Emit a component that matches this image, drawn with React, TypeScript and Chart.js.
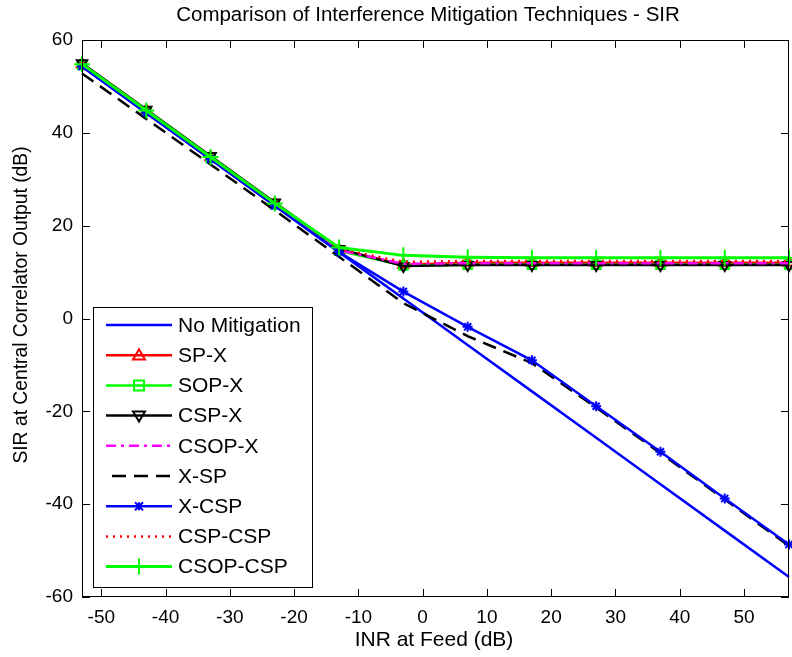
import React, { useEffect, useRef } from "react";
import { Chart, registerables } from "chart.js";

Chart.register(...registerables);

// ---------- data ----------
const INR = [-53, -43, -33, -23, -13, -3, 7, 17, 27, 37, 47, 57];
const NO_MITIGATION = [54.3, 44.3, 34.3, 24.3, 14.3, 4.3, -5.7, -15.7, -25.7, -35.7, -45.7, -55.7];
const SP_X = [54.8, 44.8, 34.8, 24.8, 14.8, 11.6, 12.0, 12.0, 12.0, 12.0, 12.0, 12.0];
const SOP_X = [54.6, 44.6, 34.6, 24.6, 14.6, 11.4, 11.6, 11.6, 11.6, 11.6, 11.6, 11.6];
const CSP_X = [55.0, 45.0, 35.0, 25.0, 15.0, 11.3, 11.5, 11.5, 11.5, 11.5, 11.5, 11.5];
const CSOP_X = [54.7, 44.7, 34.7, 24.7, 14.7, 11.8, 11.9, 11.9, 11.9, 11.9, 11.9, 11.9];
const X_SP = [52.8, 43.0, 33.2, 23.3, 13.3, 3.3, -3.8, -9.6, -19.2, -29.0, -39.0, -49.0];
const X_CSP = [54.3, 44.3, 34.3, 24.3, 14.3, 5.8, -1.8, -9.0, -18.9, -28.7, -38.8, -48.7];
const CSP_CSP = [54.9, 44.9, 34.9, 24.9, 15.0, 12.2, 12.4, 12.4, 12.4, 12.4, 12.4, 12.4];
const CSOP_CSP = [54.8, 44.8, 34.8, 24.8, 15.3, 13.6, 13.2, 13.1, 13.1, 13.1, 13.1, 13.1];

const SERIES_NAMES = ["No Mitigation", "SP-X", "SOP-X", "CSP-X", "CSOP-X", "X-SP", "X-CSP", "CSP-CSP", "CSOP-CSP"];
const SERIES_VALUES = [NO_MITIGATION, SP_X, SOP_X, CSP_X, CSOP_X, X_SP, X_CSP, CSP_CSP, CSOP_CSP];

const X_TICKS = [-50, -40, -30, -20, -10, 0, 10, 20, 30, 40, 50];
const Y_TICKS = [-60, -40, -20, 0, 20, 40, 60];

const TITLE = "Comparison of Interference Mitigation Techniques - SIR";
const X_LABEL = "INR at Feed (dB)";
const Y_LABEL = "SIR at Central Correlator Output (dB)";

// ---------- styles ----------
type Marker = "none" | "tri" | "square" | "dtri" | "star" | "plus";
const STYLES: { color: string; dash: number[]; marker: Marker; width: number }[] = [
  { color: "#0000ff", dash: [], marker: "none", width: 2.5 },
  { color: "#ff0000", dash: [], marker: "tri", width: 2.5 },
  { color: "#00ff00", dash: [], marker: "square", width: 2.5 },
  { color: "#000000", dash: [], marker: "dtri", width: 2.5 },
  { color: "#ff00ff", dash: [10, 5, 3, 5], marker: "none", width: 2.5 },
  { color: "#000000", dash: [14, 8], marker: "none", width: 2.5 },
  { color: "#0000ff", dash: [], marker: "star", width: 2.5 },
  { color: "#ff0000", dash: [2, 5], marker: "none", width: 2.5 },
  { color: "#00ff00", dash: [], marker: "plus", width: 3 },
];

const FONT = "'Liberation Sans', Arial, sans-serif";

function pointStyleOf(m: Marker): any {
  switch (m) {
    case "tri": return "triangle";
    case "dtri": return "triangle";
    case "square": return "rect";
    case "star": return "star";
    case "plus": return "cross";
    default: return "circle";
  }
}

function drawMarker(ctx: CanvasRenderingContext2D, m: Marker, x: number, y: number, color: string) {
  ctx.save();
  ctx.strokeStyle = color;
  ctx.lineWidth = 2;
  ctx.setLineDash([]);
  ctx.beginPath();
  const r = 6;
  if (m === "tri") {
    ctx.moveTo(x, y - r);
    ctx.lineTo(x + r, y + r * 0.7);
    ctx.lineTo(x - r, y + r * 0.7);
    ctx.closePath();
  } else if (m === "dtri") {
    ctx.moveTo(x, y + r);
    ctx.lineTo(x + r, y - r * 0.7);
    ctx.lineTo(x - r, y - r * 0.7);
    ctx.closePath();
  } else if (m === "square") {
    ctx.rect(x - 5, y - 5, 10, 10);
  } else if (m === "star") {
    const s = 4;
    ctx.moveTo(x - s, y - s); ctx.lineTo(x + s, y + s);
    ctx.moveTo(x + s, y - s); ctx.lineTo(x - s, y + s);
    ctx.moveTo(x, y - s); ctx.lineTo(x, y + s);
  } else if (m === "plus") {
    ctx.moveTo(x, y - 8); ctx.lineTo(x, y + 8);
  }
  ctx.stroke();
  ctx.restore();
}

const decorPlugin = {
  id: "matlabDecor",
  afterDraw(chart: any) {
    const { ctx, chartArea: a, scales } = chart;
    const xs = scales.x, ys = scales.y;
    ctx.save();
    // box
    ctx.strokeStyle = "#000";
    ctx.lineWidth = 1;
    ctx.setLineDash([]);
    ctx.strokeRect(a.left + 0.5, a.top + 0.5, a.right - a.left - 1, a.bottom - a.top - 1);
    // inward ticks
    const tl = 8;
    ctx.beginPath();
    for (const v of X_TICKS) {
      const px = Math.round(xs.getPixelForValue(v)) + 0.5;
      ctx.moveTo(px, a.bottom); ctx.lineTo(px, a.bottom - tl);
      ctx.moveTo(px, a.top); ctx.lineTo(px, a.top + tl);
    }
    for (const v of Y_TICKS) {
      const py = Math.round(ys.getPixelForValue(v)) + 0.5;
      ctx.moveTo(a.left, py); ctx.lineTo(a.left + tl, py);
      ctx.moveTo(a.right, py); ctx.lineTo(a.right - tl, py);
    }
    ctx.stroke();

    // title
    ctx.fillStyle = "#000";
    ctx.font = `20.5px ${FONT}`;
    ctx.textAlign = "center";
    ctx.textBaseline = "middle";
    ctx.fillText(TITLE, 428, 15);
    // x label
    ctx.font = `21px ${FONT}`;
    ctx.fillText(X_LABEL, 434, 640);
    // y label
    ctx.save();
    ctx.font = `19.3px ${FONT}`;
    ctx.translate(22, 305);
    ctx.rotate(-Math.PI / 2);
    ctx.fillText(Y_LABEL, 0, 0);
    ctx.restore();

    // legend
    const L = 93, T = 307, R = 312, B = 587;
    ctx.fillStyle = "#fff";
    ctx.fillRect(L, T, R - L, B - T);
    ctx.strokeStyle = "#000";
    ctx.lineWidth = 1;
    ctx.strokeRect(L + 0.5, T + 0.5, R - L, B - T);
    ctx.font = `21px ${FONT}`;
    ctx.textAlign = "left";
    ctx.textBaseline = "middle";
    SERIES_NAMES.forEach((name, i) => {
      const st = STYLES[i];
      const y = 325 + i * 30.2;
      ctx.save();
      ctx.strokeStyle = st.color;
      ctx.lineWidth = st.width;
      ctx.setLineDash(st.dash);
      ctx.beginPath();
      const x0 = st.dash.length && st.dash[0] > 10 ? 112 : 106;
      ctx.moveTo(x0, y);
      ctx.lineTo(172, y);
      ctx.stroke();
      ctx.restore();
      if (st.marker !== "none") drawMarker(ctx, st.marker, 139, y, st.color);
      ctx.fillStyle = "#000";
      ctx.fillText(name, 178, y + 1);
    });
    ctx.restore();
  },
};

export default function App() {
  const ref = useRef<HTMLCanvasElement | null>(null);
  useEffect(() => {
    if (!ref.current) return;
    const datasets = SERIES_VALUES.map((vals, i) => {
      const st = STYLES[i];
      return {
        label: SERIES_NAMES[i],
        data: INR.map((x, k) => ({ x, y: vals[k] })),
        borderColor: st.color,
        backgroundColor: st.color,
        borderWidth: st.width,
        borderDash: st.dash,
        pointStyle: pointStyleOf(st.marker),
        pointRotation: st.marker === "dtri" ? 180 : 0,
        pointRadius: st.marker === "none" ? 0 : st.marker === "plus" ? 8 : st.marker === "star" ? 5 : 6,
        pointBorderWidth: 2,
        pointBorderColor: st.color,
        pointBackgroundColor: "rgba(0,0,0,0)",
        tension: 0,
        fill: false,
        clip: false as any,
        order: SERIES_NAMES.length - i,
      };
    });
    const chart = new Chart(ref.current, {
      type: "line",
      data: { datasets },
      plugins: [decorPlugin],
      options: {
        responsive: false,
        animation: false,
        devicePixelRatio: 1,
        layout: { autoPadding: false, padding: { left: 0, right: 3, top: 40, bottom: 0 } },
        plugins: { legend: { display: false }, title: { display: false }, tooltip: { enabled: false } },
        scales: {
          x: {
            type: "linear",
            min: -53,
            max: 57,
            afterFit: (s: any) => { s.height = 60; s.paddingLeft = 0; s.paddingRight = 0; },
            afterBuildTicks: (s: any) => { s.ticks = X_TICKS.map((v) => ({ value: v })); },
            grid: { display: false, drawTicks: false, tickLength: 0 },
            border: { display: false },
            ticks: { color: "#000", font: { family: FONT, size: 19 }, padding: 9, maxRotation: 0, autoSkip: false },
          },
          y: {
            type: "linear",
            min: -60,
            max: 60,
            afterFit: (s: any) => { s.width = 82; s.paddingTop = 0; s.paddingBottom = 0; },
            afterBuildTicks: (s: any) => { s.ticks = Y_TICKS.map((v) => ({ value: v })); },
            grid: { display: false, drawTicks: false, tickLength: 0 },
            border: { display: false },
            ticks: { color: "#000", font: { family: FONT, size: 19 }, padding: 9, autoSkip: false },
          },
        },
      } as any,
    });
    return () => chart.destroy();
  }, []);
  return (
    <div style={{ position: "absolute", left: 0, top: 0, width: 792, height: 657, background: "#fff" }}>
      <canvas ref={ref} width={792} height={657} style={{ display: "block" }} />
    </div>
  );
}
